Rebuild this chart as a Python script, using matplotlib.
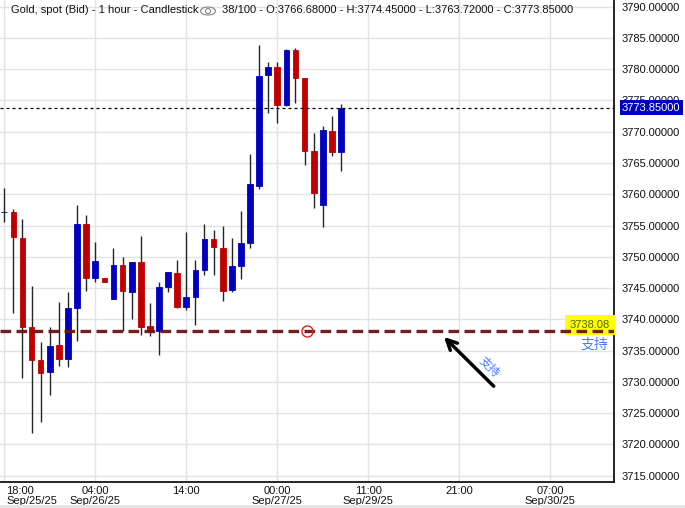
import numpy as np
import matplotlib
matplotlib.use("Agg")
import matplotlib.pyplot as plt
from matplotlib.patches import Ellipse, Rectangle
from matplotlib import transforms

plt.rcParams['font.family'] = ['Liberation Sans', 'Noto Sans CJK SC', 'DejaVu Sans']

# hourly bars, Sep/25 18:00 .. Sep/29 ~13:00 (weekend skipped)
opens = [3757.12, 3757.12, 3753.02, 3738.79, 3733.52, 3731.65, 3735.91, 3733.73, 3741.88, 3755.25,
         3746.67, 3746.62, 3743.31, 3748.70, 3744.43, 3749.18, 3738.95, 3738.20, 3745.23, 3747.42,
         3742.04, 3743.63, 3747.95, 3752.86, 3751.42, 3744.75, 3748.59, 3752.26, 3761.37, 3779.11,
         3780.34, 3774.32, 3783.06, 3778.59, 3766.92, 3758.34, 3770.12, 3766.68]
highs = [3760.96, 3757.60, 3756.00, 3745.34, 3736.39, 3738.79, 3742.79, 3744.38, 3758.29, 3756.69,
         3752.38, 3746.62, 3751.42, 3749.98, 3749.18, 3753.34, 3742.63, 3745.98, 3747.58, 3749.50,
         3753.98, 3749.50, 3755.25, 3754.29, 3754.93, 3753.02, 3757.33, 3766.43, 3783.86, 3781.14,
         3781.14, 3783.22, 3783.38, 3778.59, 3769.80, 3770.92, 3772.51, 3774.45]
lows = [3755.62, 3741.08, 3730.69, 3721.90, 3723.66, 3727.97, 3732.61, 3732.45, 3736.55, 3744.59,
        3746.03, 3746.03, 3743.31, 3738.20, 3740.12, 3737.56, 3737.40, 3734.36, 3744.43, 3741.88,
        3741.56, 3739.16, 3747.15, 3747.15, 3742.99, 3744.43, 3746.51, 3751.47, 3760.89, 3773.04,
        3771.44, 3774.16, 3774.64, 3764.73, 3757.86, 3754.82, 3766.17, 3763.72]
closes = [3757.12, 3753.22, 3738.84, 3733.57, 3731.49, 3735.75, 3733.73, 3741.83, 3755.25, 3746.67,
          3749.34, 3746.03, 3748.70, 3744.59, 3749.18, 3738.84, 3738.20, 3745.18, 3747.58, 3742.04,
          3743.59, 3747.90, 3752.86, 3751.63, 3744.59, 3748.54, 3752.22, 3761.65, 3778.91, 3780.34,
          3774.32, 3783.06, 3778.64, 3766.97, 3760.26, 3770.28, 3766.81, 3773.85]

tick_pos = [0, 10, 20, 30, 40, 50, 60]
tick_labels = ["18:00\nSep/25/25", "04:00\nSep/26/25", "14:00", "00:00\nSep/27/25",
               "11:00\nSep/29/25", "21:00", "07:00\nSep/30/25"]

last_price = 3773.85
support = 3738.08

fig = plt.figure(figsize=(6.85, 5.08), dpi=100)
ax = fig.add_axes([0, 26 / 508, 614 / 685, 482 / 508])

x = np.arange(len(opens))
o = np.array(opens)
c = np.array(closes)
cols = np.where(c >= o, "#0000c0", "#c00000")

ax.vlines(x, lows, highs, color="#252525", lw=1.0, zorder=3)
ax.bar(x, c - o, bottom=o, width=0.62, color=cols, edgecolor=cols, linewidth=0.6, zorder=4)

ax.set_xlim(-0.47, 67.0)
ax.set_ylim(3714.0, 3791.05)

ax.set_yticks(np.arange(3715, 3791, 5))
ax.yaxis.tick_right()
ax.yaxis.set_major_formatter(plt.FormatStrFormatter("%.5f"))
ax.set_xticks(tick_pos)
ax.set_xticklabels(tick_labels, linespacing=0.95)
ax.tick_params(length=0, labelsize=8, colors="#111111")
ax.tick_params(axis="y", pad=5.5)
ax.tick_params(axis="x", pad=3)
lbl0 = ax.get_xticklabels()[0]
lbl0.set_horizontalalignment("left")
lbl0.set_transform(lbl0.get_transform() + transforms.ScaledTranslation(2 / 100, 0, fig.dpi_scale_trans))

ax.grid(True, color="#e3e3e3", lw=1)
ax.set_axisbelow(True)
for s in ["left", "top"]:
    ax.spines[s].set_visible(False)
for s in ["right", "bottom"]:
    ax.spines[s].set_color("black")
    ax.spines[s].set_linewidth(1.2)

# last price line + label
ax.axhline(last_price, color="black", lw=0.9, dashes=(2.4, 2.4), zorder=5)
ax.annotate("%.5f" % last_price, xy=(1.013, last_price), xycoords=("axes fraction", "data"),
            ha="left", va="center", fontsize=8, color="white", zorder=10, annotation_clip=False,
            bbox=dict(boxstyle="square,pad=0.2", fc="#0000c0", ec="none"))

# support line, label drawn under it
ax.text(66.55, support + 0.95, "%.2f" % support, ha="right", va="center", fontsize=8,
        color="#4f6400", zorder=5,
        bbox=dict(boxstyle="square,pad=0.45", fc="#ffff00", ec="none"))
ax.axhline(support, color="#6e1414", lw=2.4, dashes=(3.2, 1.6), zorder=6, alpha=0.95)
ax.plot([33.3], [support], marker="o", ms=8, mfc="none", mec="#e02020", mew=1, zorder=7)
ax.text(64.9, 3736.0, "支持", ha="center", va="center", fontsize=10, color="#4a7bff", zorder=8)

ax.annotate("", xy=(48.1, 3737.5), xytext=(54.0, 3729.0),
            arrowprops=dict(arrowstyle="->", color="black", lw=2.5, mutation_scale=18), zorder=8)
ax.text(53.3, 3732.4, "支持", rotation=-45, ha="center", va="center", fontsize=8.5,
        color="#4a7bff", zorder=8)

# header
fig.text(11 / 685, 1 - 10 / 508, "Gold, spot (Bid) - 1 hour - Candlestick", fontsize=8,
         va="center", ha="left", color="#111111")
fig.patches.append(Ellipse((208 / 685, 1 - 11 / 508), 15 / 685, 8 / 508, fill=False,
                           ec="#888888", lw=0.8, transform=fig.transFigure))
fig.patches.append(Ellipse((208 / 685, 1 - 11 / 508), 5 / 685, 5 / 508, fill=False,
                           ec="#888888", lw=0.8, transform=fig.transFigure))
fig.text(222 / 685, 1 - 10 / 508,
         "38/100 - O:3766.68000 - H:3774.45000 - L:3763.72000 - C:3773.85000",
         fontsize=8, va="center", ha="left", color="#111111")

# thin gray strip along the bottom edge
fig.patches.append(Rectangle((0, 0), 1, 3 / 508, fc="#e6e6e6", ec="none", transform=fig.transFigure))

fig.savefig("out.png", dpi=100)
